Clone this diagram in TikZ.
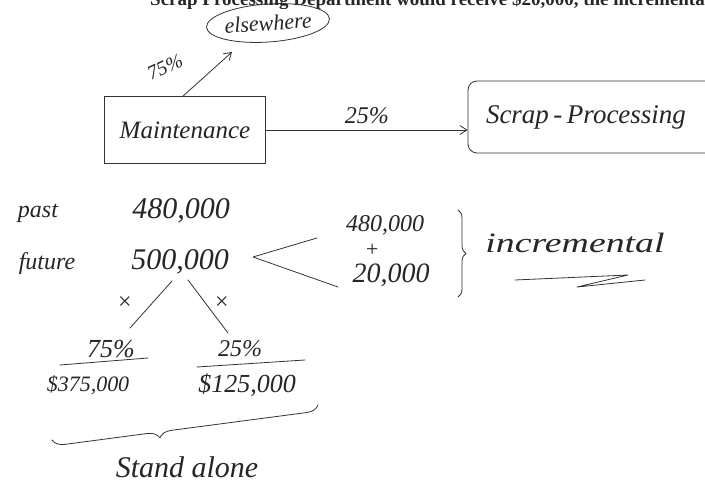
\documentclass[tikz,border=0pt]{standalone}
\usepackage{fontspec}
\setmainfont{Liberation Serif}
\usetikzlibrary{arrows.meta,shapes.geometric,decorations.pathreplacing}
\newcommand\hwf[1]{\fontsize{#1}{#1}\selectfont\itshape}
\begin{document}
\begin{tikzpicture}[x=1pt,y=-1pt,
  ink/.style={line width=0.8pt, draw=black!80, line cap=round, line join=round},
  hand/.style={text=black!85, inner sep=1pt},
  arr/.style={ink, -{Straight Barb[length=7pt,width=9pt]}},
]
\useasboundingbox (0,0) rectangle (705,489);
\fill[white] (0,0) rectangle (705,489);
% printed line, cut off at the top
\begin{scope}
  \clip (0,0) rectangle (705,9);
  \node[anchor=base west, inner sep=0, font=\bfseries\fontsize{19}{19}\selectfont, text=black!85] (print) at (150,6)
    {Scrap Processing Department would receive \$20,000, the incremental};
\end{scope}
% boxes
\node[ink, draw, ellipse, hand, font=\hwf{22}, minimum width=108, minimum height=38, inner sep=0pt, rotate=4] (else) at (268,23) {elsewhere};
\node[ink, draw, hand, minimum width=161, minimum height=67, font=\hwf{25}] (maint) at (185,130) {Maintenance};
\node[ink, draw, hand, rounded corners=9pt, minimum width=270, minimum height=72, inner xsep=18pt,
      text width=234, align=left, font=\hwf{27}] (scrap) at (603,117) {Scrap\,-\,Processing};
% arrows
\coordinate (tip75) at (232,52);
\draw[arr] ([xshift=-2pt]maint.north) -- (tip75);
\node[hand, font=\hwf{20}, rotate=25] (l75) at (165,67) {75\%};
\draw[arr] (maint.east) -- node[hand, above=5pt, font=\hwf{24}] (l25) {25\%} (maint.east -| scrap.west);
% amounts
\node[hand, font=\hwf{24}] (past) at (38,213) {past};
\node[hand, font=\hwf{30}] (n480) at (181,211) {480,000};
\node[hand, font=\hwf{24}] (future) at (47,264) {future};
\node[hand, font=\hwf{30}] (n500) at (180,262) {500,000};
\node[hand, font=\hwf{24}] (r480) at (385,225) {480,000};
\node[hand, font=\hwf{22}, inner sep=0pt] (plus) at (372,250) {+};
\node[hand, font=\hwf{28}] (r20) at (391,275) {20,000};
\coordinate (lt) at (317,238);
\coordinate (ltip) at (253,257);
\coordinate (lb) at (338,287);
\draw[ink] (lt) -- (ltip) -- (lb);
\coordinate (bt) at (458,210);
\coordinate (bb) at (458,297);
\draw[ink, decorate, decoration={brace, amplitude=8pt}] (bt) -- (bb);
\node[hand, font=\hwf{28}] (incr) at (575,243) {\scalebox{1.35}[1]{incremental}};
\coordinate (u1) at (515,280);
\coordinate (u2) at (628,275);
\coordinate (u3) at (577,287);
\coordinate (u4) at (645,280);
\draw[ink] (u1) -- (u2) -- (u3) -- (u4);
% split
\coordinate (s1) at (172,281);
\coordinate (s1e) at (130,328);
\coordinate (s2) at (188,280);
\coordinate (s2e) at (228,333);
\draw[ink] (s1) -- (s1e);
\draw[ink] (s2) -- (s2e);
\node[hand, font=\fontsize{24}{24}\selectfont] (x1) at (125,303) {×};
\node[hand, font=\fontsize{24}{24}\selectfont] (x2) at (222,303) {×};
\node[hand, font=\hwf{26}] (p75) at (111,349) {75\%};
\node[hand, font=\hwf{24}] (p25) at (240,349) {25\%};
\coordinate (a1) at (60,365);
\coordinate (a2) at (148,358);
\coordinate (b1) at (197,367);
\coordinate (b2) at (305,360);
\draw[ink] (a1) -- (a2);
\draw[ink] (b1) -- (b2);
\node[hand, font=\hwf{22}] (v375) at (88,385) {\$375,000};
\node[hand, font=\hwf{26}] (v125) at (247,385) {\$125,000};
\coordinate (c1) at (52,440);
\coordinate (c2) at (318,405);
\draw[ink, decorate, decoration={brace, mirror, amplitude=12pt, aspect=0.4}] (c1) -- (c2);
\node[hand, font=\hwf{30}] (stand) at (187,467) {Stand alone};
\end{tikzpicture}
\end{document}
